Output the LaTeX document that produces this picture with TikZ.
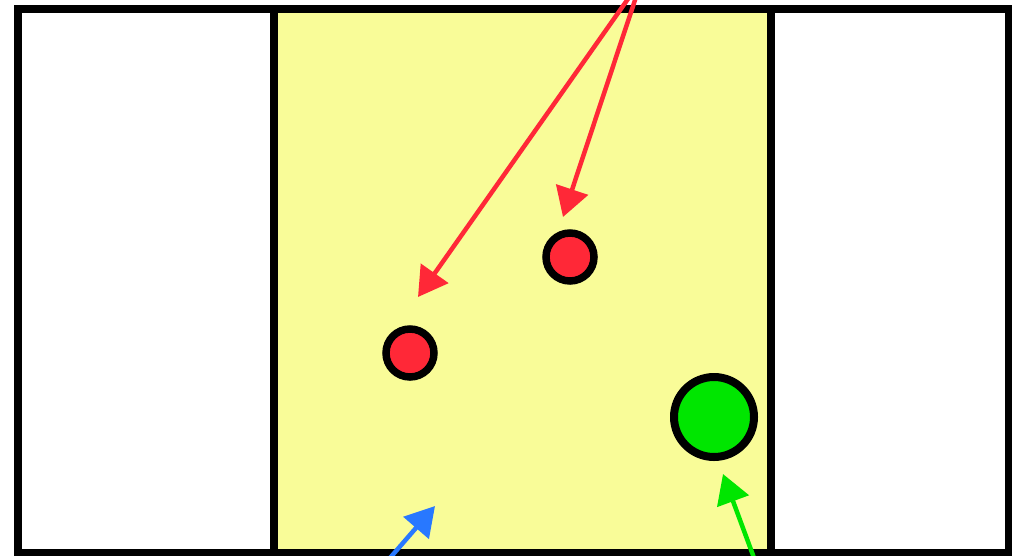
\documentclass[tikz,border=0pt]{standalone}
\usetikzlibrary{arrows.meta}
\definecolor{myyellow}{RGB}{249,252,152}
\definecolor{myred}{RGB}{255,40,55}
\definecolor{mygreen}{RGB}{0,230,0}
\definecolor{myblue}{RGB}{40,120,255}
\tikzset{
  box/.style={draw=black, line width=8pt},
  dot/.style={circle, draw=black, line width=7.5pt, inner sep=0pt, fill=myred, minimum size=48pt},
  bigdot/.style={circle, draw=black, line width=8pt, inner sep=0pt, fill=mygreen, minimum size=80pt},
  arr/.style={line width=4.5pt, -{Triangle[length=29pt,width=33pt]}}
}
\begin{document}
\begin{tikzpicture}[x=1pt,y=-1pt]
\useasboundingbox (0,0) rectangle (1012,555);
\begin{scope}
\clip (0,0) rectangle (1012,555);
\draw[box, fill=white] (18,9) rectangle (1009,553);
\draw[box, fill=myyellow] (274,9) rectangle (771,553);
\node[dot] (r1) at (570,257) {};
\node[dot] (r2) at (410,353) {};
\node[bigdot] (g) at (714,417) {};
\coordinate (src) at (642,-21);
\coordinate (t1) at (418,297);
\coordinate (t2) at (563,217);
\coordinate (bs) at (383,566);
\coordinate (bt) at (435,506);
\coordinate (gs) at (757,566);
\coordinate (gt) at (723,474);
\draw[arr, myred] (src) -- (t1);
\draw[arr, myred] (src) -- (t2);
\draw[arr, myblue] (bs) -- (bt);
\draw[arr, mygreen] (gs) -- (gt);
\end{scope}
\end{tikzpicture}
\end{document}
